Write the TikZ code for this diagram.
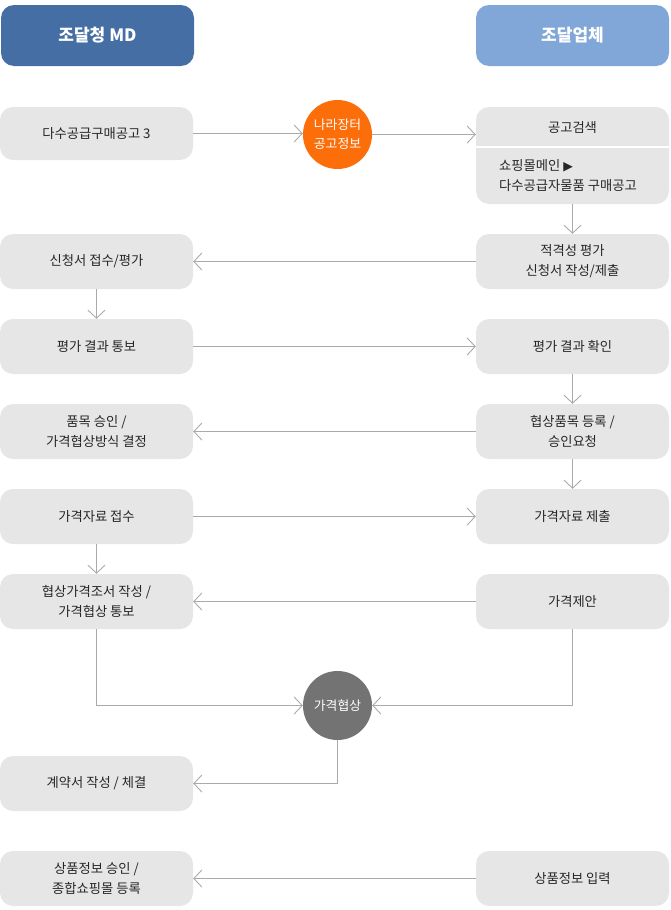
\documentclass[tikz,border=0pt]{standalone}
\usepackage{fontspec}
\setmainfont{Noto Sans CJK KR}
\newfontfamily\symfont{DejaVu Sans}
\usetikzlibrary{arrows.meta}
\definecolor{hdrL}{HTML}{456EA5}
\definecolor{hdrR}{HTML}{80A7D7}
\definecolor{boxfill}{HTML}{E6E6E6}
\definecolor{txt}{HTML}{262626}
\definecolor{arrc}{HTML}{AAAAAA}
\definecolor{orng}{HTML}{FB6E0A}
\definecolor{grayc}{HTML}{737373}
\tikzset{
  hdr/.style={rectangle, rounded corners=13pt, minimum width=193pt, minimum height=61pt, inner sep=0pt, text=white, font=\fontsize{17}{20}\selectfont\bfseries},
  box/.style={rectangle, rounded corners=13pt, fill=boxfill, minimum width=193pt, minimum height=55pt, inner sep=0pt, text=txt, align=center, font=\fontsize{13.3}{20}\selectfont},
  circ/.style={circle, minimum size=69pt, inner sep=0pt, text=white, align=center, font=\fontsize{12.8}{19}\selectfont},
  arr/.style={draw=arrc, line width=0.9pt, -{Straight Barb[length=8pt,width=17pt,line width=0.9pt]}},
  ln/.style={draw=arrc, line width=0.9pt}
}
\begin{document}
\begin{tikzpicture}[x=1pt,y=-1pt]
\useasboundingbox (0,0) rectangle (670,910);
% headers
\node[hdr, fill=hdrL] (HL) at (97.5,35.5) {조달청 MD};
\node[hdr, fill=hdrR] (HR) at (572.5,35.5) {조달업체};
% left column
\node[box, minimum height=53pt] (L1) at (96.5,133.5) {다수공급구매공고 3};
\node[box] (L2) at (96.5,261.5) {신청서 접수/평가};
\node[box] (L3) at (96.5,346.5) {평가 결과 통보};
\node[box] (L4) at (96.5,431.5) {품목 승인 /\\가격협상방식 결정};
\node[box] (L5) at (96.5,516.5) {가격자료 접수};
\node[box] (L6) at (96.5,601.5) {협상가격조서 작성 /\\가격협상 통보};
\node[box] (L7) at (96.5,783.5) {계약서 작성 / 체결};
\node[box] (L8) at (96.5,878.5) {상품정보 승인 /\\종합쇼핑몰 등록};
% right column
\node[box, minimum height=97pt] (R1) at (572.5,155.5) {};
\coordinate (dv) at (0,147);
\draw[white, line width=1.6pt] (R1.west |- dv) -- (R1.east |- dv);
\node[text=txt, font=\fontsize{13.3}{20}\selectfont] (R1a) at (572.5,127.5) {공고검색};
\node[text=txt, align=left, anchor=west, inner sep=0pt, font=\fontsize{13.3}{20}\selectfont] (R1b) at (499,176) {쇼핑몰메인 {\symfont\fontsize{12.5}{20}\selectfont ▶}\\다수공급자물품 구매공고};
\node[box] (R2) at (572.5,261.5) {적격성 평가\\신청서 작성/제출};
\node[box] (R3) at (572.5,346.5) {평가 결과 확인};
\node[box] (R4) at (572.5,431.5) {협상품목 등록 /\\승인요청};
\node[box] (R5) at (572.5,516.5) {가격자료 제출};
\node[box] (R6) at (572.5,601.5) {가격제안};
\node[box] (R8) at (572.5,878.5) {상품정보 입력};
% circles
\node[circ, fill=orng] (C1) at (337.5,134.5) {나라장터\\공고정보};
\node[circ, fill=grayc] (C2) at (337.5,705.5) {가격협상};
% connectors
\draw[arr] (L1.east) -- (L1.east -| C1.west);
\draw[arr] (C1.east) -- (C1.east -| R1.west);
\draw[arr] (R1.south) -- (R2.north);
\draw[arr] (R2.west) -- (L2.east);
\draw[arr] (L2.south) -- (L3.north);
\draw[arr] (L3.east) -- (R3.west);
\draw[arr] (R3.south) -- (R4.north);
\draw[arr] (R4.west) -- (L4.east);
\draw[arr] (R4.south) -- (R5.north);
\draw[arr] (L5.east) -- (R5.west);
\draw[arr] (L5.south) -- (L6.north);
\draw[arr] (R6.west) -- (L6.east);
\draw[arr] (L6.south) |- (C2.west);
\draw[arr] (R6.south) |- (C2.east);
\draw[arr] (C2.south) |- (L7.east);
\draw[arr] (R8.west) -- (L8.east);
\end{tikzpicture}
\end{document}
